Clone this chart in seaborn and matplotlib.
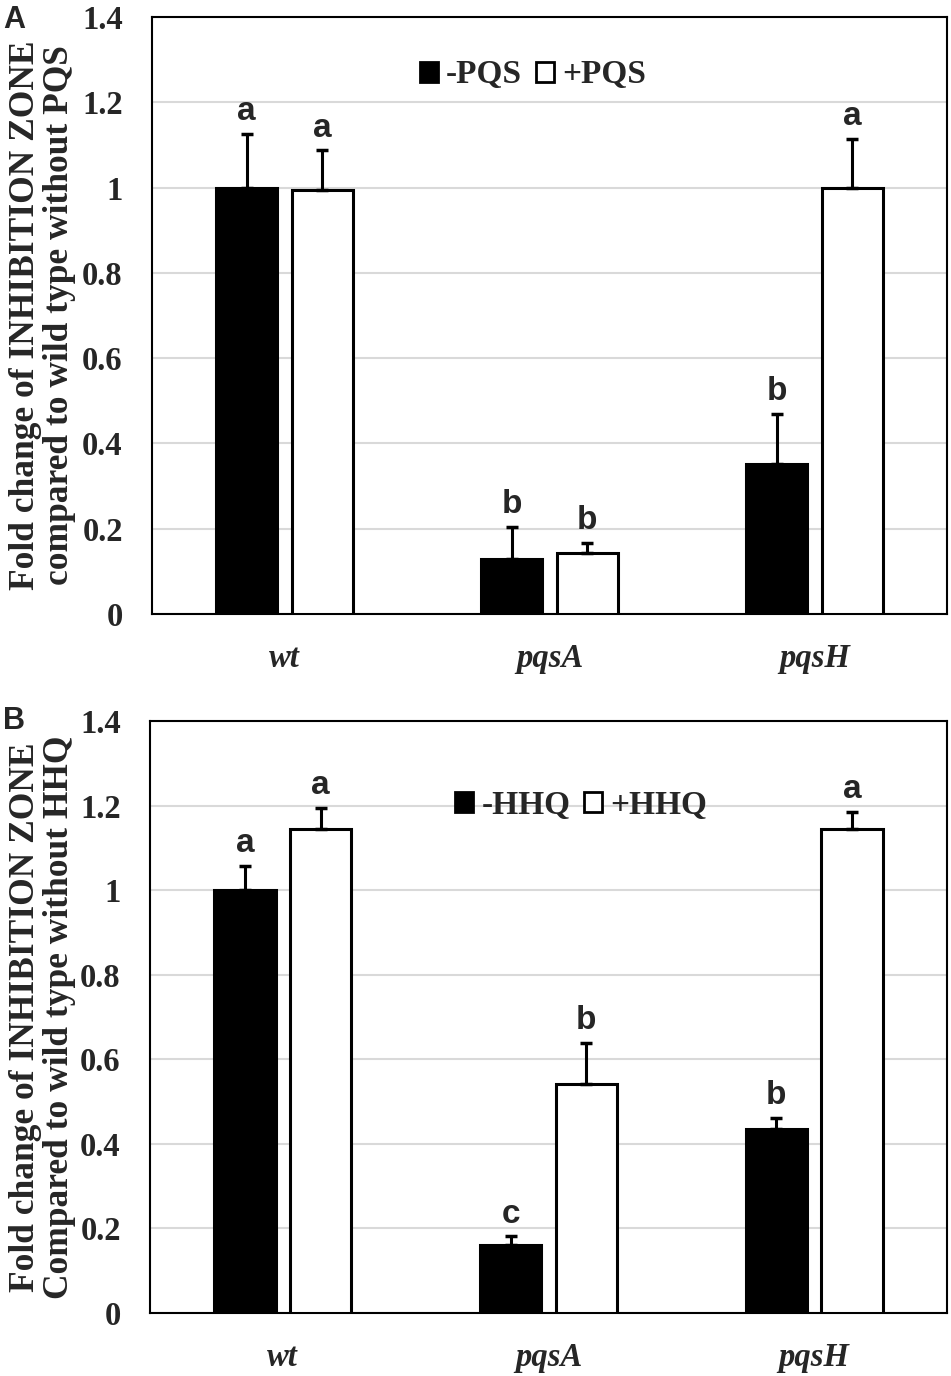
import matplotlib
matplotlib.use("Agg")
import matplotlib.pyplot as plt
import matplotlib.patches as mpatches
import numpy as np
import pandas as pd
import seaborn as sns

# ─────────────────────────────────────────────
# DATA
# ─────────────────────────────────────────────
STRAINS = ["wt", "pqsA", "pqsH"]

# Panel A: PQS
A_MINUS = [1.000, 0.129, 0.352]
A_MINUS_ERR = [0.125, 0.075, 0.117]
A_PLUS = [0.995, 0.143, 1.000]
A_PLUS_ERR = [0.092, 0.024, 0.114]
A_MINUS_LET = ["a", "b", "b"]
A_PLUS_LET = ["a", "b", "a"]

# Panel B: HHQ
B_MINUS = [1.000, 0.161, 0.435]
B_MINUS_ERR = [0.057, 0.020, 0.026]
B_PLUS = [1.144, 0.541, 1.144]
B_PLUS_ERR = [0.050, 0.097, 0.040]
B_MINUS_LET = ["a", "c", "b"]
B_PLUS_LET = ["a", "b", "a"]

YTICKS = [0, 0.2, 0.4, 0.6, 0.8, 1.0, 1.2, 1.4]
YTICKLABELS = ["0", "0.2", "0.4", "0.6", "0.8", "1", "1.2", "1.4"]

SERIF = ["Liberation Serif", "DejaVu Serif"]
SANS = ["Liberation Sans", "DejaVu Sans"]

sns.set_theme(style="white")
plt.rcParams["font.family"] = SERIF


def draw_panel(ax, compound, minus, minus_err, plus, plus_err, minus_let, plus_let,
               ylabel, label_x, legend_xy):
    lab_minus = "-" + compound
    lab_plus = "+" + compound
    df = pd.DataFrame({
        "strain": STRAINS * 2,
        "treat": [lab_minus] * 3 + [lab_plus] * 3,
        "value": minus + plus,
    })
    sns.barplot(data=df, x="strain", y="value", hue="treat", order=STRAINS,
                hue_order=[lab_minus, lab_plus],
                palette={lab_minus: "black", lab_plus: "white"},
                edgecolor="black", linewidth=2.2, width=0.57, gap=0.19,
                errorbar=None, legend=False, ax=ax, zorder=3)

    errs = [minus_err, plus_err]
    lets = [minus_let, plus_let]
    bar_conts = list(ax.containers)[:2]
    for ci, cont in enumerate(bar_conts):
        for bi, bar in enumerate(cont.patches):
            xc = bar.get_x() + bar.get_width() / 2
            h = bar.get_height()
            e = errs[ci][bi]
            ax.errorbar(xc, h, yerr=[[0], [e]], fmt="none", ecolor="black",
                        elinewidth=2.2, capsize=4.5, capthick=2.5, zorder=4)
            ax.annotate(lets[ci][bi], (xc, h + e), xytext=(0, 5),
                        textcoords="offset points", ha="center", va="bottom",
                        fontsize=24, fontweight="bold", family=SANS)

    ax.set_xlim(-0.5, 2.5)
    ax.set_ylim(0, 1.4)
    ax.set_yticks(YTICKS)
    ax.set_yticklabels(YTICKLABELS)
    ax.yaxis.grid(True, color="#d9d9d9", linewidth=1.5, zorder=0)
    ax.set_axisbelow(True)
    for s in ax.spines.values():
        s.set_visible(True)
        s.set_color("black")
        s.set_linewidth(1.5)
    ax.tick_params(axis="y", direction="in", length=10, width=1.2, color="black",
                   labelsize=23.5, pad=21)
    ax.tick_params(axis="x", length=0, labelsize=23.5, pad=21)
    for t in ax.get_yticklabels():
        t.set_fontweight("bold")
    for t in ax.get_xticklabels():
        t.set_fontweight("bold")
        t.set_fontstyle("italic")
    ax.set_xlabel("")
    ax.set_ylabel(ylabel, fontsize=25.5, fontweight="bold", linespacing=1.05)
    ax.yaxis.set_label_coords(label_x, 0.5)

    handles = [mpatches.Patch(facecolor="black", edgecolor="black", linewidth=2),
               mpatches.Patch(facecolor="white", edgecolor="black", linewidth=2)]
    ax.legend(handles, [lab_minus, lab_plus], loc="center", bbox_to_anchor=legend_xy,
              ncol=2, frameon=False, handlelength=0.55, handleheight=0.55,
              handletextpad=0.25, columnspacing=0.4,
              prop={"family": SERIF, "weight": "bold", "size": 24})


fig = plt.figure(figsize=(9.51, 13.76), dpi=100)
ax_a = fig.add_axes([152 / 951, 1 - 614 / 1376, 795 / 951, 597 / 1376])
ax_b = fig.add_axes([150 / 951, 1 - 1313 / 1376, 797 / 951, 592 / 1376])

draw_panel(ax_a, "PQS", A_MINUS, A_MINUS_ERR, A_PLUS, A_PLUS_ERR, A_MINUS_LET, A_PLUS_LET,
           "Fold change of INHIBITION ZONE\ncompared to wild type without PQS",
           (76 - 152) / 795, (0.479, 0.903))
draw_panel(ax_b, "HHQ", B_MINUS, B_MINUS_ERR, B_PLUS, B_PLUS_ERR, B_MINUS_LET, B_PLUS_LET,
           "Fold change of INHIBITION ZONE\nCompared to wild type without HHQ",
           (76 - 150) / 797, (0.541, 0.858))

fig.text(3 / 951, 1 - 20 / 1376, "A", fontsize=22, fontweight="bold", family=SANS,
         ha="left", va="center")
fig.text(3 / 951, 1 - 721 / 1376, "B", fontsize=22, fontweight="bold", family=SANS,
         ha="left", va="center")

fig.savefig("out.png", dpi=100)
